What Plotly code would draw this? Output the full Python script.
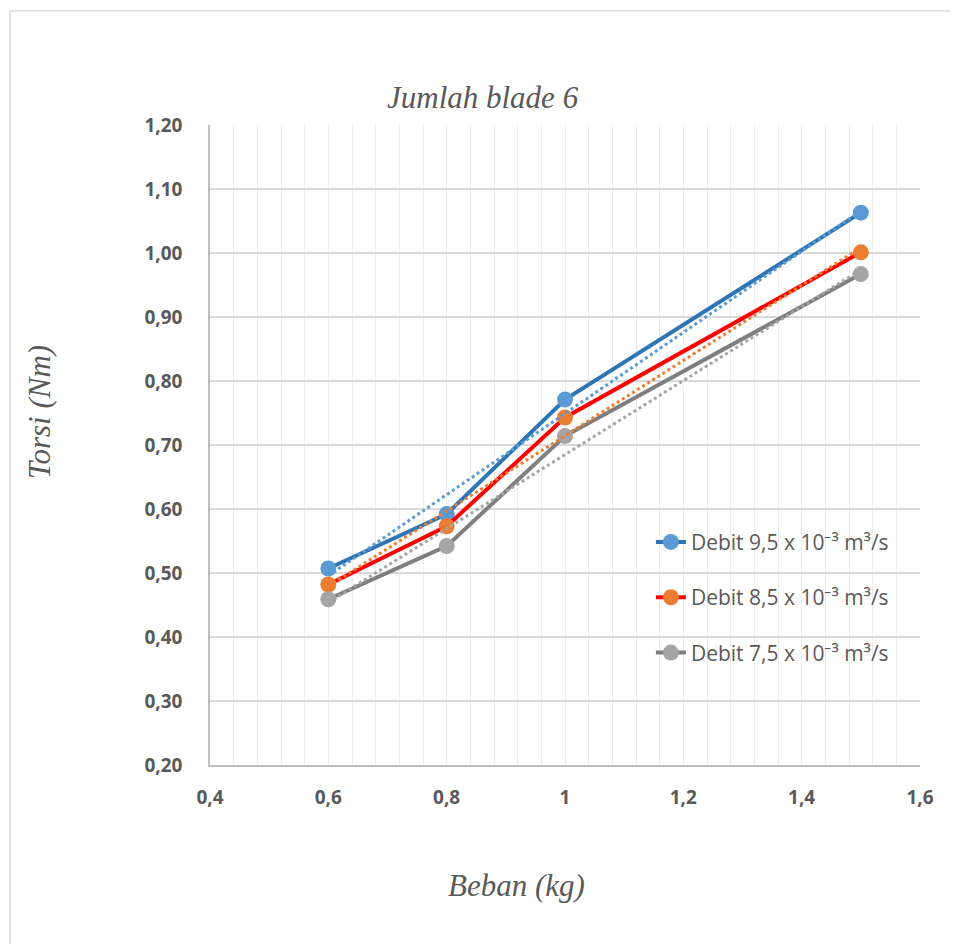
import numpy as np
import plotly.graph_objects as go

# ---- data ----
beban = [0.6, 0.8, 1.0, 1.5]
torsi_95 = [0.507, 0.592, 0.771, 1.063]
torsi_85 = [0.482, 0.573, 0.743, 1.001]
torsi_75 = [0.459, 0.542, 0.714, 0.967]
series_names = ["Debit 9,5 x 10⁻³ m³/s", "Debit 8,5 x 10⁻³ m³/s", "Debit 7,5 x 10⁻³ m³/s"]
x_tickvals = [0.4, 0.6, 0.8, 1.0, 1.2, 1.4, 1.6]
x_ticktext = ["0,4", "0,6", "0,8", "1", "1,2", "1,4", "1,6"]
y_tickvals = [0.2, 0.3, 0.4, 0.5, 0.6, 0.7, 0.8, 0.9, 1.0, 1.1, 1.2]
y_ticktext = ["0,20", "0,30", "0,40", "0,50", "0,60", "0,70", "0,80", "0,90", "1,00", "1,10", "1,20"]
chart_title = "Jumlah blade 6"
x_title = "Beban (kg)"
y_title = "Torsi (Nm)"

line_colors = ["#2E75B6", "#FF0000", "#7F7F7F"]
marker_colors = ["#5B9BD5", "#ED7D31", "#A5A5A5"]

fig = go.Figure()
all_series = [torsi_95, torsi_85, torsi_75]
for i, ys in enumerate(all_series):
    fig.add_trace(go.Scatter(
        x=beban, y=ys, mode="lines+markers", name=series_names[i],
        legendgroup=f"g{i}",
        line=dict(color=line_colors[i], width=4),
        marker=dict(color=marker_colors[i], size=16, line=dict(width=0)),
    ))

# linear trendlines (least squares fit of each series, like Excel)
for i, ys in enumerate(all_series):
    slope, icpt = np.polyfit(beban, ys, 1)
    xt = [min(beban), max(beban)]
    yt = [slope * v + icpt for v in xt]
    fig.add_trace(go.Scatter(
        x=xt, y=yt, mode="lines", showlegend=False, hoverinfo="skip",
        line=dict(color=marker_colors[i], width=3, dash="dot"),
    ))

grid_minor = "#EDEDED"
fig.update_layout(
    width=950, height=936,
    margin=dict(l=202, r=38, t=117, b=179),
    paper_bgcolor="white", plot_bgcolor="white",
    showlegend=True,
    legend=dict(
        x=0.621, y=0.38, xanchor="left", yanchor="top",
        font=dict(family="Open Sans", size=21, color="#595959"),
        bgcolor="rgba(0,0,0,0)", tracegroupgap=25,
        itemwidth=30,
    ),
    xaxis=dict(
        range=[0.4, 1.6], tickvals=x_tickvals, ticktext=x_ticktext,
        showgrid=True, gridcolor=grid_minor, gridwidth=1,
        minor=dict(dtick=0.04, tick0=0.4, showgrid=True, gridcolor=grid_minor, gridwidth=1),
        showline=True, linecolor="#BFBFBF", linewidth=1.5,
        ticks="", ticklabelstandoff=14, zeroline=False,
        tickfont=dict(family="Open Sans", size=19, color="#595959", weight="bold"),
    ),
    yaxis=dict(
        range=[0.2, 1.2], tickvals=y_tickvals, ticktext=y_ticktext,
        showgrid=True, gridcolor="#D9D9D9", gridwidth=1.5,
        showline=True, linecolor="#BFBFBF", linewidth=1.5,
        ticks="", ticklabelstandoff=22, zeroline=False,
        tickfont=dict(family="Open Sans", size=19, color="#595959", weight="bold"),
    ),
    annotations=[
        dict(text=chart_title, xref="paper", yref="paper", x=0.3845, y=1.04375,
             xanchor="center", yanchor="middle", showarrow=False,
             font=dict(family="Liberation Serif", size=31, color="#595959", style="italic")),
        dict(text=x_title, xref="paper", yref="paper", x=0.431, y=-0.1875,
             xanchor="center", yanchor="middle", showarrow=False,
             font=dict(family="Liberation Serif", size=31, color="#595959", style="italic")),
        dict(text=y_title, xref="paper", yref="paper", x=-0.2394, y=0.5516,
             xanchor="center", yanchor="middle", showarrow=False, textangle=-90,
             font=dict(family="Liberation Serif", size=31, color="#595959", style="italic")),
    ],
    shapes=[
        dict(type="rect", xref="paper", yref="paper",
             x0=(10 - 210) / 710, x1=1.2, y0=-0.4, y1=(765 - 11) / 640,
             line=dict(color="#D9D9D9", width=1.5), fillcolor="rgba(0,0,0,0)", layer="below"),
    ],
)

fig.write_html("out.html")
